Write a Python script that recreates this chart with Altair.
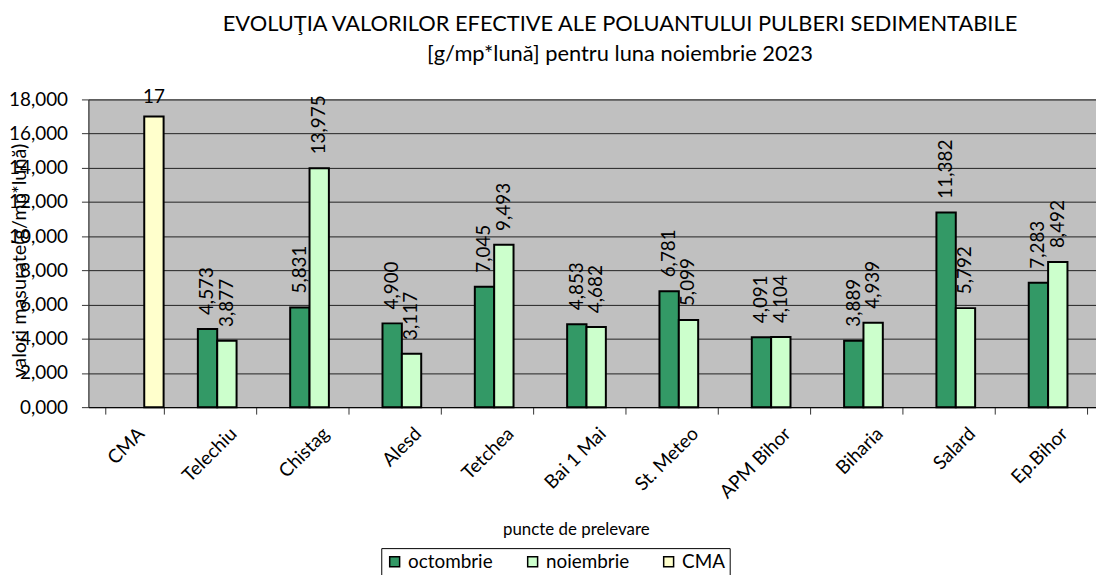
import altair as alt
import pandas as pd

categories = ["CMA", "Telechiu", "Chistag", "Alesd", "Tetchea", "Bai 1 Mai",
              "St. Meteo", "APM Bihor", "Biharia", "Salard", "Ep.Bihor"]
octombrie = [None, 4.573, 5.831, 4.900, 7.045, 4.853, 6.781, 4.091, 3.889, 11.382, 7.283]
noiembrie = [None, 3.877, 13.975, 3.117, 9.493, 4.682, 5.099, 4.104, 4.939, 5.792, 8.492]
cma = [17, None, None, None, None, None, None, None, None, None, None]
series = ["octombrie", "noiembrie", "CMA"]
colors = ["#339966", "#CCFFCC", "#FFFFCC"]
y_ticks = [0, 2, 4, 6, 8, 10, 12, 14, 16, 18]

rows = []
for i, c in enumerate(categories):
    for s, vals in zip(series, [octombrie, noiembrie, cma]):
        v = vals[i]
        if v is not None:
            rows.append({"punct": c, "serie": s, "valoare": v})
df = pd.DataFrame(rows)

FONT = "Lato"

base = alt.Chart(df).encode(
    x=alt.X("punct:N", sort=categories, title="puncte de prelevare",
            scale=alt.Scale(paddingInner=0.371, paddingOuter=0.1855),
            axis=alt.Axis(labelAngle=-45, labelFontSize=19, labelColor="black",
                          tickBand="extent", ticks=True, tickSize=7, tickColor="#333",
                          domainColor="black", grid=False, labelPadding=10,
                          titleFontSize=17, titleFontWeight="normal", titleColor="black",
                          titleX=491, titleY=123, titleAlign="center",
                          titleBaseline="middle")),
    xOffset=alt.XOffset("serie:N", sort=series,
                        scale=alt.Scale(domain=series, paddingInner=0, paddingOuter=0)),
    y=alt.Y("valoare:Q", title="valori masurate(g/mp*lună)",
            scale=alt.Scale(domain=[0, 18], nice=False),
            axis=alt.Axis(values=y_ticks,
                          labelExpr="replace(format(datum.value, '.3f'), '.', ',')",
                          labelFontSize=19, labelColor="black", labelPadding=14,
                          tickSize=7, tickColor="#333", domainColor="#333",
                          gridColor="#222", gridWidth=1,
                          titleFontSize=20, titleFontWeight="normal", titleColor="black",
                          titleX=-69, titleY=162, titleAlign="center",
                          titleBaseline="middle")),
)

bars = base.mark_bar(stroke="black", strokeWidth=2).encode(
    color=alt.Color("serie:N", sort=series,
                    scale=alt.Scale(domain=series, range=colors),
                    legend=alt.Legend(title=None, orient="none", direction="horizontal",
                                      legendX=295, legendY=452,
                                      strokeColor="black", fillColor="white", padding=4,
                                      symbolType="square", symbolSize=100,
                                      symbolStrokeColor="black", symbolStrokeWidth=1.5,
                                      labelFontSize=19, labelColor="black",
                                      columnPadding=30, labelOffset=4))
)

labels = base.transform_filter("datum.serie != 'CMA'").transform_calculate(
    lbl="replace(format(datum.valoare, '.3f'), '.', ',')"
).mark_text(angle=270, align="left", baseline="middle", dx=14, fontSize=19,
            color="black", font=FONT).encode(text="lbl:N")

cma_label = base.transform_filter("datum.serie == 'CMA'").mark_text(
    baseline="alphabetic", dy=-14, fontSize=19, color="black", font=FONT
).encode(text=alt.Text("valoare:Q", format="d"))

chart = alt.layer(bars, labels, cma_label).properties(
    width=1023, height=310,
    title=alt.Title(["EVOLUŢIA VALORILOR EFECTIVE ALE POLUANTULUI PULBERI SEDIMENTABILE",
                     "[g/mp*lună] pentru luna noiembrie 2023"],
                    fontSize=22, fontWeight="normal", color="black", font=FONT,
                    anchor="middle", dx=24, offset=22, lineHeight=30),
    autosize=alt.AutoSizeParams(type="none"),
    padding={"left": 81, "top": 90, "right": -8, "bottom": 167},
).configure(font=FONT).configure_view(
    fill="#C0C0C0", stroke="#808080", strokeWidth=1
).configure_axis(labelFont=FONT, titleFont=FONT).configure_legend(labelFont=FONT)

chart.save("out.html", embed_options={"renderer": "svg", "actions": False})
